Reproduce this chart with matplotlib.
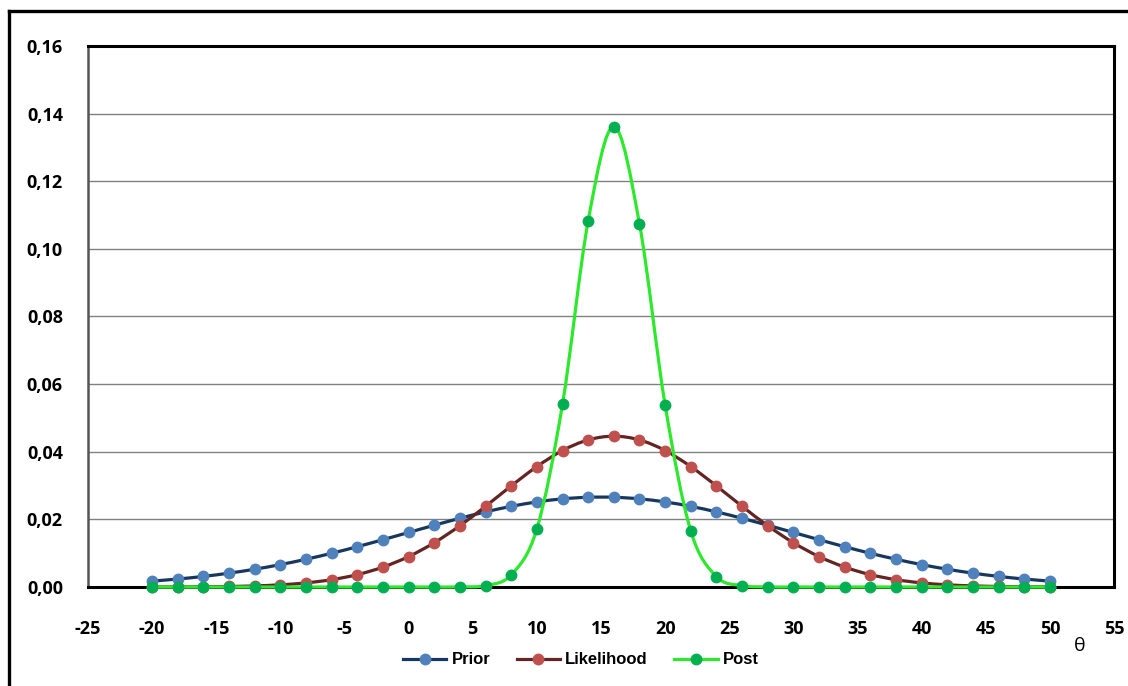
import matplotlib.pyplot as plt
from matplotlib.path import Path
from matplotlib.patches import PathPatch
from matplotlib.lines import Line2D

plt.rcParams["axes.unicode_minus"] = False

theta = list(range(-20, 51, 2))

prior = [0.00175, 0.00236, 0.00314, 0.00410, 0.00526, 0.00663, 0.00821, 0.00998,
         0.01192, 0.01400, 0.01613, 0.01827, 0.02032, 0.02222, 0.02385, 0.02516,
         0.02607, 0.02654, 0.02654, 0.02607, 0.02516, 0.02385, 0.02222, 0.02032,
         0.01827, 0.01613, 0.01400, 0.01192, 0.00998, 0.00821, 0.00663, 0.00526,
         0.00410, 0.00314, 0.00236, 0.00175]

likelihood = [0.00001, 0.00003, 0.00007, 0.00016, 0.00033, 0.00065, 0.00122, 0.00217,
              0.00366, 0.00589, 0.00900, 0.01310, 0.01813, 0.02387, 0.02990, 0.03561,
              0.04036, 0.04350, 0.04460, 0.04350, 0.04036, 0.03561, 0.02990, 0.02387,
              0.01813, 0.01310, 0.00900, 0.00589, 0.00366, 0.00217, 0.00122, 0.00065,
              0.00033, 0.00016, 0.00007, 0.00003]

post = [0, 0, 0, 0, 0, 0, 0, 0,
        0, 0, 0, 0, 0.00003, 0.00043, 0.0036, 0.0172,
        0.0541, 0.1083, 0.1361, 0.1074, 0.0538, 0.0166, 0.0031, 0.0004,
        0.00003, 0, 0, 0, 0, 0, 0, 0,
        0, 0, 0, 0]

series = [
    ("Prior", prior, "#17375E", "#4F81BD"),
    ("Likelihood", likelihood, "#632523", "#C0504D"),
    ("Post", post, "#2EE82E", "#00B050"),
]


def smooth_path(xs, ys):
    # Excel-like smoothed line: Catmull-Rom segments as cubic Bezier curves
    pts = list(zip(xs, ys))
    verts = [pts[0]]
    codes = [Path.MOVETO]
    n = len(pts)
    for i in range(n - 1):
        p0 = pts[i - 1] if i > 0 else pts[i]
        p1 = pts[i]
        p2 = pts[i + 1]
        p3 = pts[i + 2] if i + 2 < n else pts[i + 1]
        c1 = (p1[0] + (p2[0] - p0[0]) / 6, p1[1] + (p2[1] - p0[1]) / 6)
        c2 = (p2[0] - (p3[0] - p1[0]) / 6, p2[1] - (p3[1] - p1[1]) / 6)
        verts += [c1, c2, p2]
        codes += [Path.CURVE4] * 3
    return Path(verts, codes)


fig = plt.figure(figsize=(11.28, 6.86), dpi=100)
ax = fig.add_axes([0.078, 0.1443, 0.9096, 0.7887])

handles = []
for k, (name, vals, lc, mc) in enumerate(series):
    patch = PathPatch(smooth_path(theta, vals), facecolor="none", edgecolor=lc,
                      lw=2.3, zorder=3 + k, clip_on=False)
    ax.add_patch(patch)
    ax.plot(theta, vals, "o", ms=7.5, color=mc, mec=mc, zorder=3.5 + k, clip_on=False)
    handles.append(Line2D([], [], color=lc, lw=2.3, marker="o", ms=7.5,
                          mfc=mc, mec=mc))

ax.set_xlim(-25, 55)
ax.set_ylim(0, 0.16)
ax.set_xticks(range(-25, 56, 5))
ax.set_yticks([i * 0.02 for i in range(9)])
ax.set_yticklabels([f"{i * 0.02:.2f}".replace(".", ",") for i in range(9)])
ax.tick_params(length=0, labelsize=13)
ax.tick_params(axis="x", pad=24)
ax.tick_params(axis="y", pad=18)
for lab in ax.get_xticklabels() + ax.get_yticklabels():
    lab.set_fontweight("bold")
    lab.set_family("Open Sans")

ax.grid(axis="y", color="#808080", lw=1)
ax.set_axisbelow(True)
for s in ax.spines.values():
    s.set_color("black")
    s.set_linewidth(2.2)
    s.set_zorder(2.5)
ax.spines["left"].set_color("#555555")
ax.spines["left"].set_linewidth(1.8)

fig.text(0.957, 0.058, "θ", fontsize=14, family="Open Sans", ha="center", va="center")

leg = fig.legend(handles, [s[0] for s in series], loc="center", ncol=3,
                 bbox_to_anchor=(0.515, 0.038), frameon=False, handlelength=2.6,
                 columnspacing=1.6, handletextpad=0.3,
                 prop={"family": "Liberation Sans", "weight": "bold", "size": 12})

# outer chart border (left and top only)
fig.add_artist(Line2D([0.008, 0.008], [0.0, 0.984], color="black", lw=2.4,
                      transform=fig.transFigure))
fig.add_artist(Line2D([0.008, 1.0], [0.984, 0.984], color="black", lw=2.4,
                      transform=fig.transFigure))

fig.savefig("out.png", dpi=100)
